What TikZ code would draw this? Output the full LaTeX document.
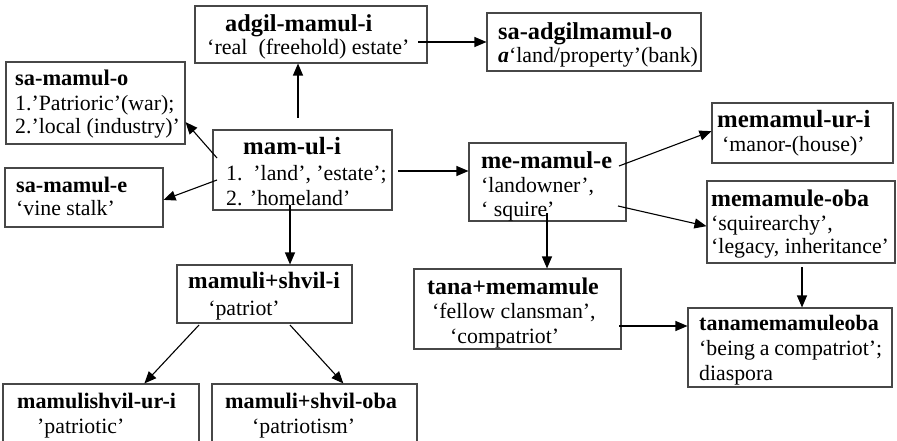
\documentclass[tikz,border=0pt]{standalone}
\usepackage{fontspec}
\setmainfont{Liberation Serif}
\usetikzlibrary{arrows.meta,fit,calc}
\tikzset{
  wbox/.style={draw=black!72, line width=1.1pt, inner sep=0pt, rectangle},
  hdr/.style={anchor=base west, inner sep=0pt, font=\fontsize{#1}{#1}\selectfont\bfseries},
  hdr/.default=24,
  txt/.style={anchor=base west, inner sep=0pt, font=\fontsize{#1}{#1}\selectfont},
  txt/.default=21.8,
  arr/.style={-{Triangle[length=12pt,width=10pt]}, line width=1.1pt, black},
}
\begin{document}
\begin{tikzpicture}[x=1pt,y=-1pt]
\useasboundingbox (0,0) rectangle (897,441);
\clip (0,0) rectangle (897,441);
% boxes
\node[wbox, fit={(195,6) (427,63)}] (adgil) {};
\node[wbox, fit={(487,13) (701,71)}] (saadgil) {};
\node[wbox, fit={(6,62) (185,144)}] (samo) {};
\node[wbox, fit={(213,130) (392,210)}] (mam) {};
\node[wbox, fit={(5,168) (163,227)}] (same) {};
\node[wbox, fit={(469,143) (626,221)}] (memam) {};
\node[wbox, fit={(712,103) (893,163)}] (memuri) {};
\node[wbox, fit={(707,181) (895,263)}] (memoba) {};
\node[wbox, fit={(414,269) (621,349)}] (tana) {};
\node[wbox, fit={(688,308) (892,387)}] (tanaoba) {};
\node[wbox, fit={(177,265) (352,323)}] (shvili) {};
\node[wbox, fit={(3,384) (199,470)}] (shviluri) {};
\node[wbox, fit={(212,384) (417,470)}] (shvoba) {};
% texts
\node[hdr=24.3] (adgil-1) at (225,32) {adgil-mamul-i};
\node[txt=22] (adgil-2) at (207,55) {‘real\ \ (freehold) estate’};
\node[hdr=24.3] (saadgil-1) at (498,40) {sa-adgilmamul-o};
\node[txt] (saadgil-2) at (498,63) {\textbf{\textit{a}}‘land/property’(bank)};
\node[hdr=22.4] (samo-1) at (15,86) {sa-mamul-o};
\node[txt] (samo-2) at (15,111) {1.’Patrioric’(war);};
\node[txt] (samo-3) at (15,134) {2.’local (industry)’};
\node[hdr=24.8] (mam-1) at (243,155) {mam-ul-i};
\node[txt] (mam-2) at (226,180) {1.\ \ ’land’, ’estate’;};
\node[txt] (mam-3) at (226,205) {2. ’homeland’};
\node[hdr=22.2] (same-1) at (16,192) {sa-mamul-e};
\node[txt] (same-2) at (16,215) {‘vine stalk’};
\node[hdr=24.3] (memam-1) at (481,168) {me-mamul-e};
\node[txt] (memam-2) at (481,193) {‘landowner’,};
\node[txt] (memam-3) at (481,216) {‘ squire’};
\node[hdr=24.8] (memuri-1) at (717,128) {memamul-ur-i};
\node[txt] (memuri-2) at (722,152) {‘manor-(house)’};
\node[hdr=23.9] (memoba-1) at (711,206) {memamule-oba};
\node[txt] (memoba-2) at (711,230) {‘squirearchy’,};
\node[txt] (memoba-3) at (711,253) {‘legacy, inheritance’};
\node[hdr=23.9] (tana-1) at (427,294) {tana+memamule};
\node[txt] (tana-2) at (432,318) {‘fellow clansman’,};
\node[txt] (tana-3) at (450,343) {‘compatriot’};
\node[hdr=22] (tanaoba-1) at (699,330) {tanamemamuleoba};
\node[txt] (tanaoba-2) at (699,355) {\makebox[183pt][s]{‘being a compatriot’;}};
\node[txt] (tanaoba-3) at (699,380) {diaspora};
\node[hdr=23.5] (shvili-1) at (188,288) {mamuli+shvil-i};
\node[txt, anchor=base] (shvili-2) at (244,315) {‘patriot’};
\node[hdr=22.1] (shviluri-1) at (17,408) {mamulishvil-ur-i};
\node[txt] (shviluri-2) at (37,433) {’patriotic’};
\node[hdr=22.2] (shvoba-1) at (225,408) {mamuli+shvil-oba};
\node[txt] (shvoba-2) at (252,433) {‘patriotism’};
% connector start points
\coordinate (s1) at (298,118);
\coordinate (s2) at (217,158);
\coordinate (s3) at (217,180);
\coordinate (s4) at (398,171);
\coordinate (s5) at (290,205);
\coordinate (s6) at (418,42);
\coordinate (s7) at (619,166);
\coordinate (s8) at (618,206);
\coordinate (s9) at (547,213);
\coordinate (s10) at (802,267);
\coordinate (s11) at (619,326);
\coordinate (s12) at (199,325);
\coordinate (s13) at (290,325);
% connectors
\draw[arr] (s1) -- (s1 |- adgil.south);
\draw[arr] (s2) -- ($(samo.north east)!0.73!(samo.south east)$);
\draw[arr] (s3) -- ($(same.north east)!0.54!(same.south east)$);
\draw[arr] (s4) -- (s4 -| memam.west);
\draw[arr] (s5) -- (s5 |- shvili.north);
\draw[arr] (s6) -- (s6 -| saadgil.west);
\draw[arr] (s7) -- ($(memuri.north west)!0.47!(memuri.south west)$);
\draw[arr] (s8) -- ($(memoba.north west)!0.55!(memoba.south west)$);
\draw[arr] (s9) -- (s9 |- tana.north);
\draw[arr] (s10) -- (s10 |- tanaoba.north);
\draw[arr] (s11) -- (s11 -| tanaoba.west);
\draw[arr] (s12) -- ($(shviluri.north west)!0.72!(shviluri.north east)$);
\draw[arr] (s13) -- ($(shvoba.north west)!0.64!(shvoba.north east)$);
\end{tikzpicture}
\end{document}
